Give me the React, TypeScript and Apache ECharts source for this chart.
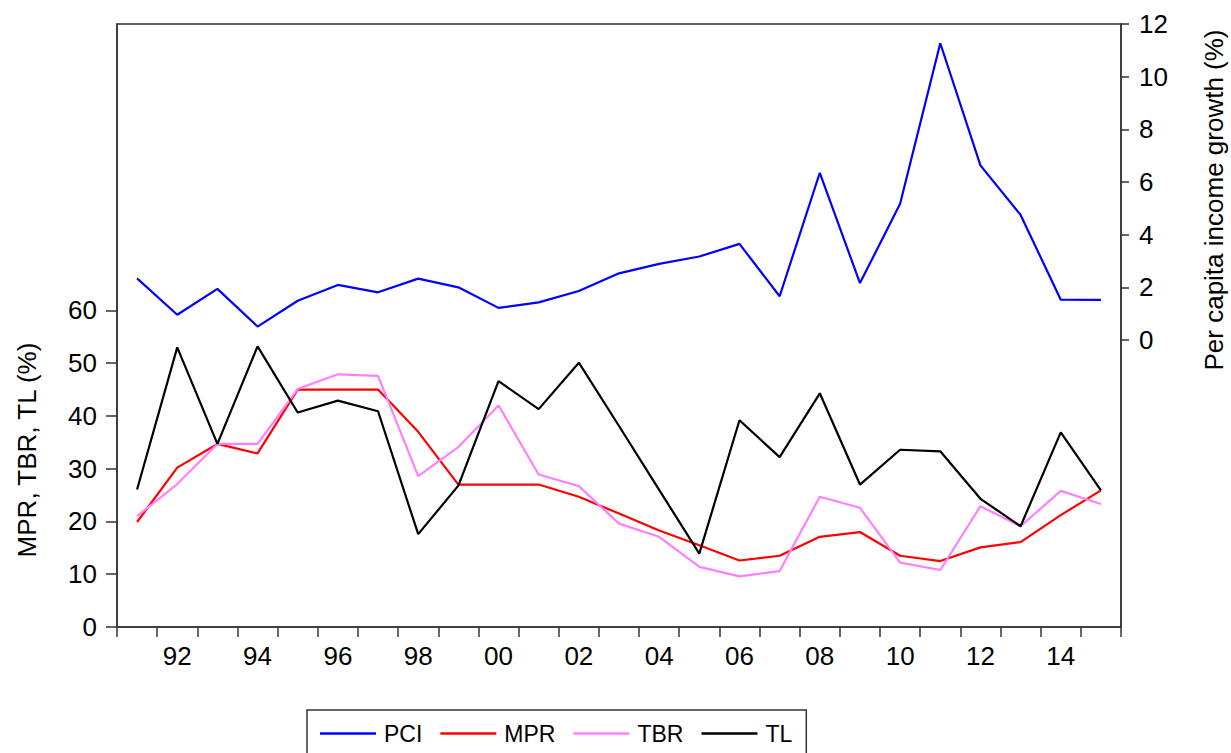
import React, { useEffect, useRef } from "react";
import * as echarts from "echarts";

const years = [
  "1991", "1992", "1993", "1994", "1995", "1996", "1997", "1998", "1999", "2000",
  "2001", "2002", "2003", "2004", "2005", "2006", "2007", "2008", "2009", "2010",
  "2011", "2012", "2013", "2014", "2015",
];
const pci = [2.34, 0.96, 1.94, 0.51, 1.49, 2.09, 1.81, 2.33, 2.0, 1.22, 1.43, 1.86, 2.53, 2.89, 3.17, 3.65, 1.66, 6.35, 2.16, 5.17, 11.27, 6.63, 4.75, 1.53, 1.52];
const mpr = [19.9, 30.2, 34.7, 32.9, 45.0, 45.0, 45.0, 37.0, 27.0, 27.0, 27.0, 24.7, 21.5, 18.3, 15.5, 12.6, 13.5, 17.1, 18.0, 13.5, 12.5, 15.1, 16.1, 21.2, 25.9];
const tbr = [21.0, 27.1, 34.7, 34.7, 45.1, 47.9, 47.6, 28.6, 34.1, 42.0, 28.9, 26.7, 19.6, 17.1, 11.4, 9.6, 10.6, 24.7, 22.6, 12.2, 10.8, 22.9, 19.1, 25.8, 23.3];
const tl = [26.05, 53.0, 34.7, 53.2, 40.65, 42.9, 40.9, 17.6, 26.8, 46.6, 41.3, 50.1, 38.1, 26.0, 13.9, 39.2, 32.2, 44.3, 27.0, 33.6, 33.3, 24.3, 19.1, 36.9, 25.9];
const leftTicks = [0, 10, 20, 30, 40, 50, 60];
const rightTicks = [0, 2, 4, 6, 8, 10, 12];

const FONT = "Liberation Sans, Arial, sans-serif";

export default function App() {
  const ref = useRef<HTMLDivElement>(null);
  useEffect(() => {
    if (!ref.current) return;
    const chart = echarts.init(ref.current, null, { renderer: "svg" });
    chart.setOption({
      animation: false,
      backgroundColor: "#fff",
      textStyle: { fontFamily: FONT },
      grid: {
        left: 117,
        right: 110,
        top: 24,
        bottom: 126,
        show: true,
        borderColor: "#333",
        borderWidth: 1.5,
        backgroundColor: "transparent",
      },
      legend: {
        left: 307,
        top: 710,
        orient: "horizontal",
        data: ["PCI", "MPR", "TBR", "TL"],
        icon: "rect",
        itemWidth: 56,
        itemHeight: 2.5,
        itemGap: 18,
        padding: [12, 14, 14, 13],
        borderColor: "#333",
        borderWidth: 1.5,
        borderRadius: 0,
        textStyle: { fontSize: 23, color: "#000", fontFamily: FONT, padding: [0, 0, 0, 3] },
      },
      xAxis: {
        type: "category",
        data: years,
        boundaryGap: true,
        axisLine: { lineStyle: { color: "#333", width: 1.5 } },
        axisTick: { show: true, interval: 0, length: 10, lineStyle: { color: "#333", width: 1.5 } },
        axisLabel: {
          interval: (i: number) => i % 2 === 1,
          formatter: (v: string) => v.slice(2),
          fontSize: 26,
          color: "#000",
          margin: 16,
          fontFamily: FONT,
        },
        splitLine: { show: false },
      },
      yAxis: [
        {
          type: "value",
          position: "left",
          min: 0,
          max: 114.3,
          interval: 10,
          axisLine: { show: true, lineStyle: { color: "#333", width: 1.5 } },
          axisTick: { show: true, length: 11, customValues: leftTicks, lineStyle: { color: "#333", width: 1.5 } },
          axisLabel: { customValues: leftTicks, fontSize: 26, color: "#000", margin: 20, fontFamily: FONT },
          splitLine: { show: false },
        },
        {
          type: "value",
          position: "right",
          min: -10.9,
          max: 12,
          axisLine: { show: true, lineStyle: { color: "#333", width: 1.5 } },
          axisTick: { show: true, length: 8, customValues: rightTicks, lineStyle: { color: "#333", width: 1.5 } },
          axisLabel: { customValues: rightTicks, fontSize: 26, color: "#000", margin: 18, fontFamily: FONT },
          splitLine: { show: false },
        },
      ],
      graphic: [
        {
          type: "text",
          x: 27,
          y: 450,
          rotation: Math.PI / 2,
          style: {
            text: "MPR, TBR, TL (%)",
            fontSize: 26,
            fontFamily: FONT,
            fill: "#000",
            align: "center",
            verticalAlign: "middle",
          },
        },
        {
          type: "text",
          x: 1214,
          y: 200,
          rotation: Math.PI / 2,
          style: {
            text: "Per capita income growth (%)",
            fontSize: 26,
            fontFamily: FONT,
            fill: "#000",
            align: "center",
            verticalAlign: "middle",
          },
        },
      ],
      series: [
        { name: "PCI", type: "line", yAxisIndex: 1, data: pci, symbol: "none", lineStyle: { color: "#0000ff", width: 2.2 }, itemStyle: { color: "#0000ff" } },
        { name: "MPR", type: "line", yAxisIndex: 0, data: mpr, symbol: "none", lineStyle: { color: "#ff0000", width: 2.2 }, itemStyle: { color: "#ff0000" } },
        { name: "TBR", type: "line", yAxisIndex: 0, data: tbr, symbol: "none", lineStyle: { color: "#ff80ff", width: 2.2 }, itemStyle: { color: "#ff80ff" } },
        { name: "TL", type: "line", yAxisIndex: 0, data: tl, symbol: "none", lineStyle: { color: "#000000", width: 2.2 }, itemStyle: { color: "#000000" } },
      ],
    });
    return () => chart.dispose();
  }, []);
  return <div ref={ref} style={{ position: "fixed", left: 0, top: 0, width: 1231, height: 753 }} />;
}
